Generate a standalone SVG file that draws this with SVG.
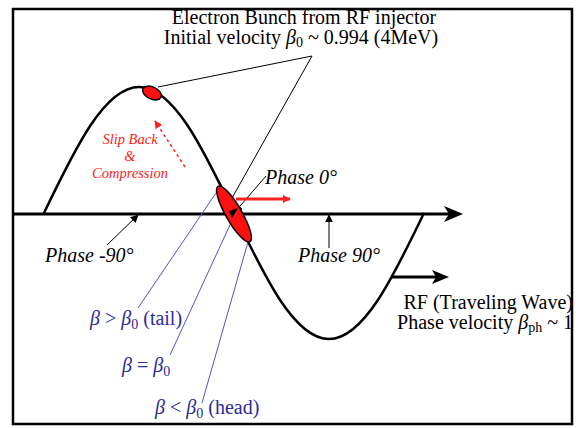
<svg xmlns="http://www.w3.org/2000/svg" width="576" height="428" viewBox="0 0 576 428">
<style>
.t{font-family:"Liberation Serif","Times New Roman",serif;font-size:20px;fill:#000}
.i{font-style:italic}
.b{fill:#2e2a96}
.r{fill:#ff2020;font-size:14.5px;font-style:italic}
.thin{stroke:#000;stroke-width:1;fill:none}
.blue{stroke:#5a50c8;stroke-width:1;fill:none}
.bunch{fill:#ff1010;stroke:#000;stroke-width:1.5}
</style>
<defs>
<marker id="ah" viewBox="0 0 10 10" refX="9" refY="5" markerWidth="8" markerHeight="8" orient="auto" markerUnits="userSpaceOnUse"><path d="M0,0 L10,5 L0,10 Z" fill="#000"/></marker>
<marker id="rh" viewBox="0 0 10 10" refX="9" refY="5" markerWidth="8" markerHeight="8" orient="auto" markerUnits="userSpaceOnUse"><path d="M0,0 L10,5 L0,10 Z" fill="#ff2020"/></marker>
</defs>
<rect x="0" y="0" width="576" height="428" fill="#fff"/>
<rect id="frame" x="13" y="9" width="559" height="415" fill="none" stroke="#000" stroke-width="2.5"/>

<g id="wave">
<path d="M44,213 C75,148.45 104.6,87 139,87 C173.4,87 203,148.45 234,213 C265,277.55 294.6,339 329,339 C363.4,339 393,277.55 424,213" fill="none" stroke="#000" stroke-width="2.5"/>
</g>

<g id="axis">
<line x1="13" y1="214" x2="450" y2="214" stroke="#000" stroke-width="3"/>
<path d="M463,214 L444,206 L449,214 L444,222 Z" fill="#000"/>
</g>

<g id="connectors">
<polyline class="thin" points="158,87 312,56 232,198"/>
<line class="thin" x1="266" y1="176" x2="235" y2="212" marker-end="url(#ah)"/>
<line class="thin" x1="107" y1="245" x2="138" y2="215" marker-end="url(#ah)"/>
<line class="thin" x1="329" y1="248" x2="329" y2="215" marker-end="url(#ah)"/>
<line class="blue" x1="138" y1="308" x2="218" y2="190"/>
<line class="blue" x1="170" y1="355" x2="235" y2="214"/>
<line class="blue" x1="202" y1="403" x2="248" y2="242"/>
<line x1="185" y1="167" x2="155" y2="121" stroke="#ff2020" stroke-width="1.5" stroke-dasharray="3,3" marker-end="url(#rh)"/>
<line x1="236" y1="199" x2="290" y2="199" stroke="#ff2020" stroke-width="3" marker-end="url(#rh)"/>
<line x1="392" y1="277" x2="438" y2="277" stroke="#000" stroke-width="3"/>
<path d="M449,277 L432,270 L436,277 L432,284 Z" fill="#000"/>
</g>

<g id="bunch-top"><ellipse class="bunch" cx="152" cy="93" rx="10" ry="6" transform="rotate(25 152 93)"/></g>
<g id="bunch-main"><ellipse class="bunch" cx="234" cy="214" rx="32" ry="8" transform="rotate(60 234 214)"/>
<path d="M238,208 L232,218 L229,211 Z" fill="#000"/></g>

<g id="title">
<text class="t" x="304" y="24" text-anchor="middle">Electron Bunch from RF injector</text>
<text class="t" x="301" y="44" text-anchor="middle">Initial velocity <tspan class="i">β</tspan><tspan font-size="14" dy="3">0</tspan><tspan dy="-3"> ~ 0.994 (4MeV)</tspan></text>
</g>

<g id="slip"><text class="t r" x="130" y="144" text-anchor="middle">Slip Back</text>
<text class="t r" x="130" y="161" text-anchor="middle">&amp;</text>
<text class="t r" x="130" y="178" text-anchor="middle">Compression</text></g>

<g id="phase0"><text class="t i" x="265" y="184">Phase 0°</text></g>
<g id="phase-90"><text class="t i" x="45" y="262">Phase -90°</text></g>
<g id="phase90"><text class="t i" x="298" y="262">Phase 90°</text></g>

<g id="rf">
<text class="t" x="573" y="309" text-anchor="end">RF (Traveling Wave)</text>
<text class="t" x="573" y="329" text-anchor="end">Phase velocity <tspan class="i">β</tspan><tspan font-size="14" dy="3">ph</tspan><tspan dy="-3"> ~ 1</tspan></text>
</g>

<g id="tail"><text class="t b" x="90" y="325"><tspan class="i">β</tspan> &gt; <tspan class="i">β</tspan><tspan font-size="14" dy="4">0</tspan><tspan dy="-4"> (tail)</tspan></text></g>
<g id="equal"><text class="t b" x="122" y="372"><tspan class="i">β</tspan> = <tspan class="i">β</tspan><tspan font-size="14" dy="4">0</tspan></text></g>
<g id="head"><text class="t b" x="155" y="414"><tspan class="i">β</tspan> &lt; <tspan class="i">β</tspan><tspan font-size="14" dy="4">0</tspan><tspan dy="-4"> (head)</tspan></text></g>
</svg>
